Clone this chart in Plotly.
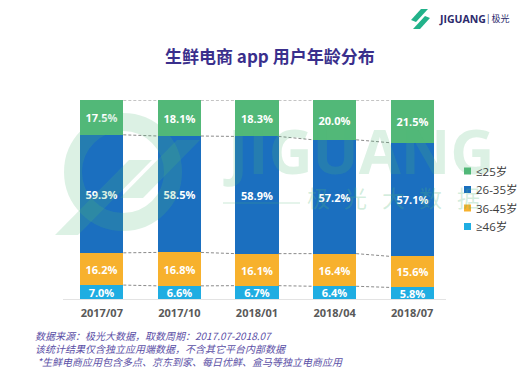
import plotly.graph_objects as go

# ---- data ----
periods = ["2017/07", "2017/10", "2018/01", "2018/04", "2018/07"]
age_le25 = [17.5, 18.1, 18.3, 20.0, 21.5]
age_26_35 = [59.3, 58.5, 58.9, 57.2, 57.1]
age_36_45 = [16.2, 16.8, 16.1, 16.4, 15.6]
age_ge46 = [7.0, 6.6, 6.7, 6.4, 5.8]
series_names = ["≤25岁", "26-35岁", "36-45岁", "≥46岁"]

title_text = "生鲜电商 app 用户年龄分布"
notes = [
    "数据来源：极光大数据，取数周期：2017.07-2018.07",
    "该统计结果仅含独立应用端数据，不含其它平台内部数据",
    " *生鲜电商应用包含多点、京东到家、每日优鲜、盒马等独立电商应用",
]

# ---- style ----
W, H = 529, 376
L, R, T, B = 63, 451, 100, 299
BAR_W = 0.555
colors = {"≤25岁": "#52B878", "26-35岁": "#1B6FBF", "36-45岁": "#F7B12D", "≥46岁": "#1FADE2"}
CJK = "Noto Sans CJK SC, Open Sans, sans-serif"
NUM = "Open Sans, Noto Sans CJK SC, sans-serif"


def px(x):
    return (x - L) / (R - L)


def py(y):
    return (B - y) / (B - T)


def note(text, x, y, size, color, family, xanchor="center", **font_kw):
    return dict(text=text, x=px(x), y=py(y), xref="paper", yref="paper", xanchor=xanchor,
                yanchor="middle", showarrow=False,
                font=dict(size=size, color=color, family=family, **font_kw))


xs = list(range(len(periods)))
fig = go.Figure()

stack = [("≥46岁", age_ge46), ("36-45岁", age_36_45), ("26-35岁", age_26_35), ("≤25岁", age_le25)]
for name, vals in stack:
    fig.add_trace(go.Bar(
        x=xs, y=vals, name=name, width=BAR_W, showlegend=False,
        marker=dict(color=colors[name], line=dict(width=0)),
        text=[f"{v:.1f}%" for v in vals], texttemplate="%{text}",
        textposition="inside", insidetextanchor="middle", constraintext="none",
        textfont=dict(color="white", size=11, family=NUM, weight="bold"),
        hoverinfo="skip",
    ))

# dashed connectors between bars at each stack boundary
levels = []
cum = [0.0] * len(periods)
for name, vals in stack:
    cum = [c + v for c, v in zip(cum, vals)]
    levels.append(list(cum))
lx, ly = [], []
for lev in levels:
    for i in range(len(periods) - 1):
        lx += [xs[i] + BAR_W / 2, xs[i + 1] - BAR_W / 2, None]
        ly += [lev[i], lev[i + 1], None]
fig.add_trace(go.Scatter(x=lx, y=ly, mode="lines", showlegend=False, hoverinfo="skip",
                         line=dict(color="#8A8A8A", width=1, dash="3px,2px")))

wm = "rgba(82,184,120,0.20)"
annotations = [
    note(f"<b>{title_text}</b>", 270, 55, 17, "#3A2F8C", CJK),
    note("<b>JIGUANG</b>", 359, 150, 61, wm, NUM),
    note("<b>JIGUANG</b>", 437, 19, 10.5, "#2C2A6C", NUM, xanchor="left"),
    note("| 极光", 485, 19, 9, "#2C2A6C", CJK, xanchor="left"),
]
for k, ch in enumerate("极光大数据"):
    annotations.append(note(ch, 318 + 37.5 * k, 197, 23, "rgba(82,184,120,0.26)", CJK))
for k, line in enumerate(notes):
    annotations.append(note(line, 33, 335 + 13 * k, 10, "#5B4FA6", CJK, xanchor="left", style="italic"))

shapes = [
    # baseline
    dict(type="line", xref="paper", yref="paper", x0=px(63), x1=px(446), y0=py(299.5), y1=py(299.5),
         line=dict(color="#E3E3E3", width=1), layer="below"),
    # watermark logo ring + bands
    dict(type="circle", xref="paper", yref="paper", x0=px(73), x1=px(173), y0=py(122), y1=py(222),
         line=dict(color=wm, width=18), layer="above"),
    dict(type="path", xref="paper", yref="paper", fillcolor=wm, line=dict(width=0), layer="above",
         path=f"M {px(55)} {py(235)} L {px(78)} {py(235)} L {px(152)} {py(160)} L {px(129)} {py(160)} Z"),
    dict(type="path", xref="paper", yref="paper", fillcolor=wm, line=dict(width=0), layer="above",
         path=f"M {px(120)} {py(198)} L {px(143)} {py(198)} L {px(200)} {py(140)} L {px(177)} {py(140)} Z"),
    dict(type="line", xref="paper", yref="paper", x0=px(223), x1=px(300), y0=py(203), y1=py(203),
         line=dict(color=wm, width=1.5), layer="above"),
    # top-right logo icon
    dict(type="path", xref="paper", yref="paper", fillcolor="#22B28A", line=dict(width=0),
         path=f"M {px(411)} {py(20)} L {px(421)} {py(9)} L {px(428)} {py(9)} L {px(416)} {py(22)} Z"),
    dict(type="path", xref="paper", yref="paper", fillcolor="#22B28A", line=dict(width=0),
         path=f"M {px(413)} {py(29)} L {px(425)} {py(16)} L {px(430)} {py(18)} L {px(420)} {py(29)} Z"),
]

# manual legend (top item = ≤25岁)
for k, name in enumerate(series_names):
    yc = 171 + 18.5 * k
    shapes.append(dict(type="rect", xref="paper", yref="paper", x0=px(464), x1=px(471),
                       y0=py(yc + 3.5), y1=py(yc - 3.5), fillcolor=colors[name], line=dict(width=0)))
    annotations.append(note(name, 474, yc, 11.5, "#3C3C3C", NUM, xanchor="left"))

fig.update_layout(
    width=W, height=H, barmode="stack",
    margin=dict(l=L, r=W - R, t=T, b=H - B, pad=0, autoexpand=False),
    plot_bgcolor="white", paper_bgcolor="white",
    showlegend=False,
    xaxis=dict(range=[-0.5, len(periods) - 0.5], tickvals=xs, ticktext=[f"<b>{p}</b>" for p in periods],
               showgrid=False, zeroline=False, showline=False, ticks="", ticklabelstandoff=6,
               tickfont=dict(size=11, color="#595959", family=NUM), fixedrange=True),
    yaxis=dict(range=[0, 100], visible=False, fixedrange=True),
    annotations=annotations, shapes=shapes,
    bargap=0,
)

fig.write_html("out.html", config={"displayModeBar": False},
               post_script="document.body.style.margin='0';")
